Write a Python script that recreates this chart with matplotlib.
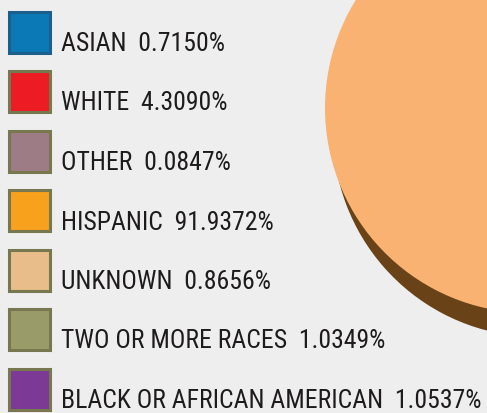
import matplotlib
matplotlib.use('Agg')
import matplotlib.pyplot as plt
from matplotlib.patches import Rectangle
from matplotlib import font_manager
from matplotlib.font_manager import FontProperties

categories = ['ASIAN', 'WHITE', 'OTHER', 'HISPANIC', 'UNKNOWN',
              'TWO OR MORE RACES', 'BLACK OR AFRICAN AMERICAN']
shares = [0.7150, 4.3090, 0.0847, 91.9372, 0.8656, 1.0349, 1.0537]
value_labels = ['0.7150%', '4.3090%', '0.0847%', '91.9372%', '0.8656%', '1.0349%', '1.0537%']

legend_colors = ['#0B79B6', '#ED1C24', '#9E7C86', '#F7A11C', '#E8BD89', '#999C68', '#7C3A96']
edge_colors = ['#1D5F8C'] + ['#77784F'] * 6
pie_colors = ['#4FA6D6', '#F46A6F', '#BFA3AB', '#F9B272', '#F1D3AE', '#BFC196', '#A678BA']

labels = [n + '  ' + v for n, v in zip(categories, value_labels)]

fig = plt.figure(figsize=(4.87, 4.13), dpi=100)
fig.patch.set_facecolor('#EEEEEE')
ax = fig.add_axes([0, 0, 1, 1])
ax.set_facecolor('#EEEEEE')
renderer = fig.canvas.get_renderer()

# the original face is a narrow humanist sans; take the narrowest installed
# regular sans we can find (ratio of cap height to line width)
wanted = {'Roboto', 'Roboto Condensed', 'Liberation Sans', 'Liberation Sans Narrow',
          'DejaVu Sans', 'Noto Sans', 'Open Sans', 'Lato', 'Inter'}
longest = max(labels, key=len)
best, best_ratio = None, 0
for f in font_manager.fontManager.ttflist:
    if f.name not in wanted or f.style != 'normal':
        continue
    if f.weight not in (400, 'normal', 'regular'):
        continue
    prop = FontProperties(fname=f.fname, size=20)
    w, _, _ = renderer.get_text_width_height_descent(longest, prop, ismath=False)
    _, h, d = renderer.get_text_width_height_descent('H', prop, ismath=False)
    ratio = (h - d) / w
    if ratio > best_ratio:
        best, best_ratio = f, ratio

prop = FontProperties(fname=best.fname, size=20)
w, _, _ = renderer.get_text_width_height_descent(longest, prop, ismath=False)
fsize = 20 * min(1.0, 420 / w)

# 3d-ish pie: brown extrusion (shifted down/right) first, then the face
pie_center = (530, 108)
pie_radius = 205
shift = (8, 24)
ax.pie(shares, colors=['#6A4217'] * len(shares), radius=pie_radius,
       center=(pie_center[0] + shift[0], pie_center[1] + shift[1]), startangle=-3.9,
       wedgeprops=dict(linewidth=0), frame=True)
ax.pie(shares, colors=pie_colors, radius=pie_radius, center=pie_center,
       startangle=-3.9, wedgeprops=dict(linewidth=0), frame=True)

ax.set_xlim(0, 487)
ax.set_ylim(413, 0)
ax.set_aspect('auto')
ax.axis('off')

# legend
step = 59.5
for i, lab in enumerate(labels):
    top = 10 + i * step
    ax.add_patch(Rectangle((8.5, top + 1.5), 41, 41, facecolor=legend_colors[i],
                           edgecolor=edge_colors[i], linewidth=2.2))
    ax.text(61, top + 41, lab, fontproperties=FontProperties(fname=best.fname, size=fsize),
            color='#1E1B1C', va='baseline', ha='left')

fig.savefig('out.png', dpi=100, facecolor=fig.get_facecolor())
